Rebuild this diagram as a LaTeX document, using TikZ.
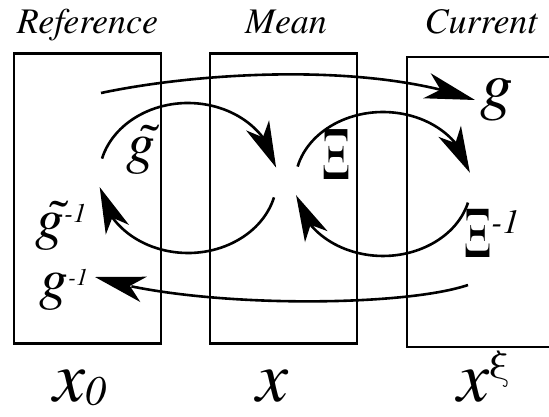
\documentclass[tikz,border=0pt]{standalone}
\usepackage{fontspec}
\setmainfont{texgyretermes}[Extension=.otf, UprightFont=*-regular, ItalicFont=*-italic, BoldFont=*-bold, BoldItalicFont=*-bolditalic]
\usetikzlibrary{arrows.meta,bending}
\begin{document}
\begin{tikzpicture}[x=1pt,y=-1pt,
  frame/.style={draw, line width=2.8pt, minimum width=147pt, minimum height=290pt, inner sep=0pt},
  conn/.style={line width=2.6pt, -{Stealth[length=46pt,width=25pt,inset=13pt]}},
  longconn/.style={line width=2.6pt, -{Stealth[length=50pt,width=26pt,inset=14pt]}},
  title/.style={font=\fontsize{36}{36}\selectfont\itshape, anchor=base, inner sep=0pt},
  lbl/.style={inner sep=0pt},
]
\useasboundingbox (0,0) rectangle (549,417);
% boxes
\node[frame] (refbox) at (87.5,198.5) {};
\node[frame] (meanbox) at (283.5,198.5) {};
\node[frame] (curbox) at (480.5,202) {};
% titles
\node[title] (tref) at (87.5,34) {Reference};
\node[title] (tmean) at (286,34) {Mean};
\node[title] (tcur) at (481,34) {Current};
% bottom labels
\node[lbl, anchor=base west] (x0) at (53,401) {\fontsize{72}{72}\selectfont\itshape x\raisebox{-4pt}{\fontsize{42}{42}\selectfont 0}};
\node[lbl, anchor=base west] (xm) at (256,401) {\fontsize{72}{72}\selectfont\itshape x};
\node[lbl, anchor=base west] (xc) at (457,401) {\fontsize{72}{72}\selectfont\itshape x\raisebox{24pt}{\fontsize{40}{40}\selectfont\upshape ξ}};
% inner labels
\node[lbl] (g) at (497,100) {\fontsize{66}{66}\selectfont\itshape g};
\node[lbl] (gt) at (141,150) {\fontsize{58}{58}\selectfont\itshape \~g};
\node[lbl, anchor=base west] (gti) at (35,238) {\fontsize{58}{58}\selectfont\itshape \~g\raisebox{16pt}{\fontsize{27}{27}\selectfont -1}};
\node[lbl, anchor=base west] (gi) at (39,298) {\fontsize{58}{58}\selectfont\itshape g\raisebox{13pt}{\fontsize{24}{24}\selectfont -1}};
\node[lbl] (xi) at (336,155) {\scalebox{0.75}[1.3]{\fontsize{58}{58}\selectfont Ξ}};
\node[lbl, anchor=base west] (xii) at (464,257) {\scalebox{0.75}[1.3]{\fontsize{56}{56}\selectfont Ξ}\raisebox{24pt}{\fontsize{34}{34}\selectfont\itshape -1}};
% connector end points
\coordinate (ts) at (101,93);
\coordinate (te) at (475,100);
\coordinate (bs) at (468,285);
\coordinate (be) at (95,277);
\coordinate (l1) at (102,158.6);
\coordinate (l2) at (274,197.4);
\coordinate (r1) at (297.6,166.6);
\coordinate (r2) at (468,202.6);
% long arcs
\draw[longconn] (ts) .. controls (200,72) and (370,62) .. (te);
\draw[longconn] (bs) .. controls (400,308) and (190,308) .. (be);
% left loop
\draw[conn] (l1) arc[start angle=195, end angle=352, x radius=89, y radius=75];
\draw[conn] (l2) arc[start angle=15, end angle=173, x radius=89, y radius=75];
% right loop
\draw[conn] (r1) arc[start angle=194, end angle=351, x radius=88, y radius=72];
\draw[conn] (r2) arc[start angle=15, end angle=171, x radius=88, y radius=72];
\end{tikzpicture}
\end{document}
